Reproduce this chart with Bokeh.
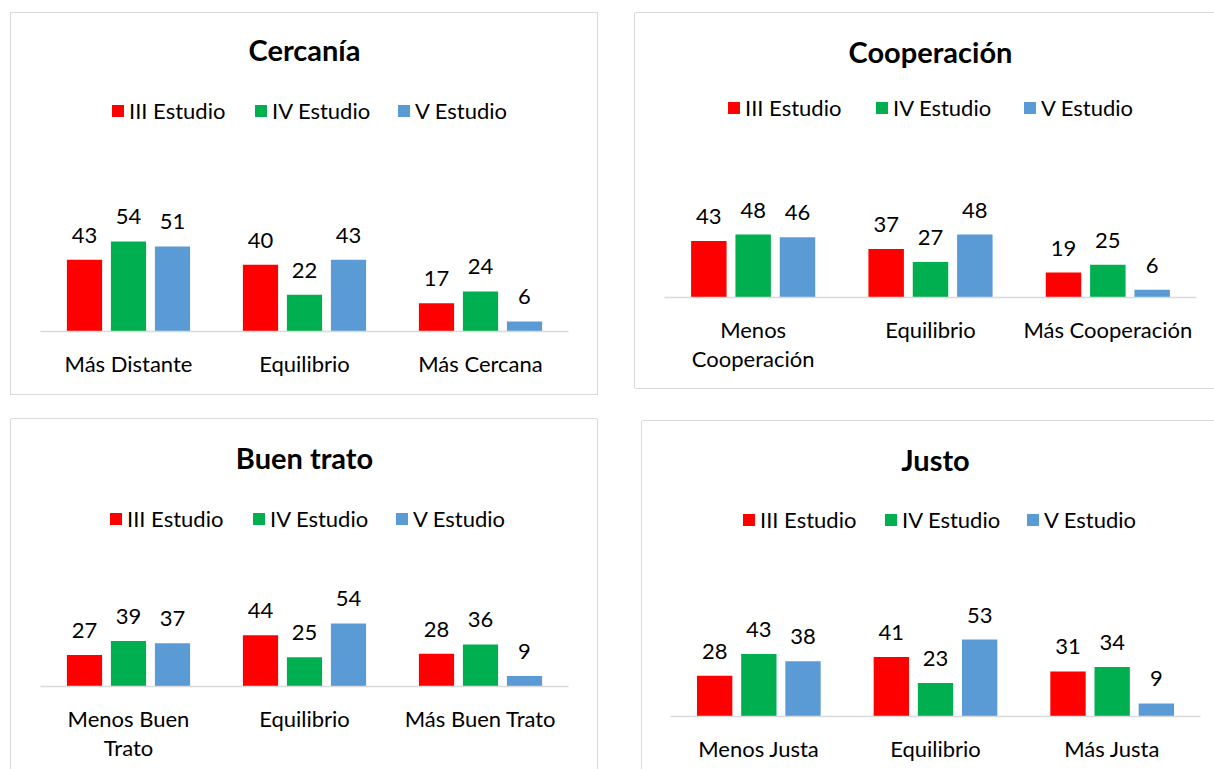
from bokeh.plotting import figure
from bokeh.models import ColumnDataSource, Range1d, Legend, LegendItem, Label, Spacer
from bokeh.layouts import row, column
from bokeh.transform import dodge
from bokeh.embed import file_html
from bokeh.resources import INLINE
from bokeh.core.properties import value

FONT = "Lato"

series = ["III Estudio", "IV Estudio", "V Estudio"]
colors = ["#FF0000", "#00B050", "#5B9BD5"]

cercania_cats = ["Más Distante", "Equilibrio", "Más Cercana"]
cercania_iii = [43, 40, 17]
cercania_iv = [54, 22, 24]
cercania_v = [51, 43, 6]

coop_cats = ["Menos\nCooperación", "Equilibrio", "Más Cooperación"]
coop_iii = [43, 37, 19]
coop_iv = [48, 27, 25]
coop_v = [46, 48, 6]

trato_cats = ["Menos Buen\nTrato", "Equilibrio", "Más Buen Trato"]
trato_iii = [27, 44, 28]
trato_iv = [39, 25, 36]
trato_v = [37, 54, 9]

justo_cats = ["Menos Justa", "Equilibrio", "Más Justa"]
justo_iii = [28, 41, 31]
justo_iv = [43, 23, 34]
justo_v = [38, 53, 9]

BORDER = "#D9D9D9"


def make_panel(title, cats, vals, width, height, left, right, bottom, ppu,
               title_y, legend_x, legend_top, label_width, shadow):
    frame_h = height - bottom
    frame_w = width - left - right
    p = figure(width=width, height=height, x_range=cats,
               y_range=Range1d(0, frame_h / ppu),
               output_backend="svg", toolbar_location=None, tools="",
               y_axis_location=None, frame_align=False,
               min_border_left=left, min_border_right=right,
               min_border_top=0, min_border_bottom=bottom)
    p.xgrid.visible = False
    p.ygrid.visible = False
    p.outline_line_color = None
    p.background_fill_color = "white"
    p.border_fill_color = "white"
    p.styles = {"box-shadow": shadow}

    data = dict(cat=cats)
    for i, v in enumerate(vals):
        data[f"s{i}"] = v
        data[f"t{i}"] = [str(x) for x in v]
    src = ColumnDataSource(data)

    offsets = [-0.25, 0.0, 0.25]
    items = []
    for i in range(3):
        r = p.vbar(x=dodge("cat", offsets[i], range=p.x_range), top=f"s{i}",
                   width=0.2, source=src, fill_color=colors[i], line_color=None)
        p.text(x=dodge("cat", offsets[i], range=p.x_range), y=f"s{i}", text=f"t{i}",
               source=src, text_align="center", text_baseline="bottom",
               y_offset=-17, text_font=value(FONT), text_font_size="22px",
               text_color="black")
        items.append(LegendItem(label=series[i], renderers=[r]))

    legend = Legend(items=items, location=(legend_x, legend_top),
                    orientation="horizontal", glyph_width=15, glyph_height=15,
                    label_standoff=4, spacing=0, label_width=label_width,
                    padding=0, margin=0, border_line_color=None,
                    background_fill_alpha=0, label_text_font=FONT,
                    label_text_font_size="22px", label_text_color="black")
    p.add_layout(legend)

    p.add_layout(Label(x=frame_w / 2, y=title_y, x_units="screen", y_units="screen",
                       text=title, text_align="center", text_baseline="middle",
                       text_font=FONT, text_font_style="bold",
                       text_font_size="29px", text_color="black"))

    ax = p.xaxis[0]
    ax.axis_line_color = BORDER
    ax.axis_line_width = 1.5
    ax.major_tick_line_color = None
    ax.minor_tick_line_color = None
    ax.major_tick_out = 0
    ax.major_tick_in = 0
    ax.major_label_standoff = 18
    ax.major_label_text_font = FONT
    ax.major_label_text_font_size = "22px"
    ax.major_label_text_color = "black"
    ax.major_label_text_line_height = 1.09
    return p


p1 = make_panel("Cercanía", cercania_cats, [cercania_iii, cercania_iv, cercania_v],
                586, 381, 29, 29, 63, 1.6667, 282, 70, 207, 124,
                f"0 0 0 1px {BORDER}")
p2 = make_panel("Cooperación", coop_cats, [coop_iii, coop_iv, coop_v],
                579, 375, 29, 18, 91, 1.3125, 246, 62, 176, 129,
                f"-1px 0 0 0 {BORDER}, 0 -1px 0 0 {BORDER}, 0 1px 0 0 {BORDER}")
p3 = make_panel("Buen trato", trato_cats, [trato_iii, trato_iv, trato_v],
                586, 350, 29, 29, 83, 1.1667, 229, 68, 154, 124,
                f"-1px 0 0 0 {BORDER}, 0 -1px 0 0 {BORDER}, 1px 0 0 0 {BORDER}")
p4 = make_panel("Justo", justo_cats, [justo_iii, justo_iv, justo_v],
                572, 348, 28, 14, 53, 1.4528, 257, 71, 183, 123,
                f"-1px 0 0 0 {BORDER}, 0 -1px 0 0 {BORDER}")

layout = column(
    Spacer(height=13, width=10),
    row(Spacer(width=11, height=10), p1, Spacer(width=38, height=10), p2),
    Spacer(height=25, width=10),
    row(Spacer(width=11, height=10), p3, Spacer(width=45, height=10),
        column(Spacer(height=2, width=10), p4)),
)

open("out.html", "w").write(file_html(layout, INLINE))
